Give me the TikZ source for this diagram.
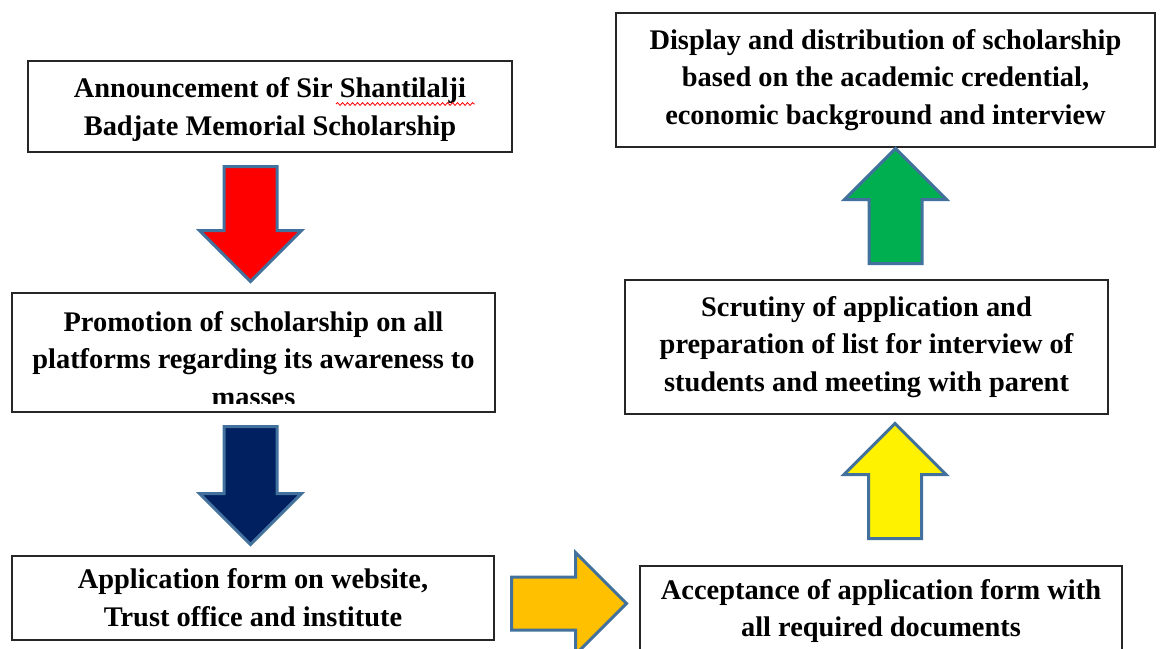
\documentclass[tikz,border=0pt]{standalone}
\usepackage{fontspec}
\setmainfont{Liberation Serif}
\usetikzlibrary{shapes,arrows,decorations.pathmorphing}
\definecolor{arrowline}{RGB}{65,113,156}
\definecolor{navy}{RGB}{0,32,96}
\definecolor{amber}{RGB}{255,192,0}
\definecolor{leaf}{RGB}{0,176,80}

\begin{document}
\begin{tikzpicture}[x=0.5pt,y=-0.5pt]
      \tikzstyle{box} = [rectangle, draw=black!85, line width=0.6pt, align=center, inner sep=0pt, font=\bfseries\fontsize{14.2}{18.9}\selectfont]
      \tikzstyle{boxtext} = [align=center, inner sep=0pt, font=\bfseries\fontsize{14.2}{18.9}\selectfont]
      \tikzstyle{bigarrow} = [single arrow, draw=arrowline, line width=1.5pt, inner xsep=0pt, inner ysep=12.5pt, single arrow head extend=12.25pt, minimum height=57.5pt, anchor=tail]
      \useasboundingbox (0,0) rectangle (1167,648);
      % left column (text cut off by the box like in the original)
      \begin{scope}
        \clip (28,61) rectangle (512,140.5);
        \node (announcetext) [boxtext] at (270,109.5)
          {Announcement of Sir Shantilalji\\Badjate Memorial Scholarship};
      \end{scope}
      \node (announce) [box, minimum width=242pt, minimum height=45.5pt] at (270,106.5) {};
      \begin{scope}
        \clip (12,293) rectangle (495,403);
        \node (promotetext) [boxtext] at (253.5,359)
          {Promotion of scholarship on all\\platforms regarding its awareness to\\masses};
      \end{scope}
      \node (promote) [box, minimum width=241.5pt, minimum height=59.5pt] at (253.5,352.5) {};
      \node (apply) [box, minimum width=241pt, minimum height=42pt] at (253,598)
        {Application form on website,\\Trust office and institute};
      % right column
      \node (accept) [box, minimum width=241pt, minimum height=45pt] at (881,611)
        {Acceptance of application form with\\all required documents};
      \node (scrutiny) [box, minimum width=241.5pt, minimum height=67pt] at (866.5,347)
        {Scrutiny of application and\\preparation of list for interview of\\students and meeting with parent};
      \node (display) [box, minimum width=269.5pt, minimum height=67pt] at (885.5,80)
        {Display and distribution of scholarship\\based on the academic credential,\\economic background and interview};
      % spelling mark
      \coordinate (sq1) at (336,104);
      \coordinate (sq2) at (475,104);
      \draw [red, line width=0.4pt, decorate, decoration={snake, amplitude=0.7pt, segment length=2.5pt}] (sq1)--(sq2);
      % block arrows
      \node (a1) [bigarrow, fill=red, rotate=-90] at (250.5,165) {};
      \node (a2) [bigarrow, fill=navy, rotate=-90, minimum height=59pt] at (250.5,425) {};
      \node (a3) [bigarrow, fill=amber] at (510,603.5) {};
      \node (a4) [bigarrow, fill=yellow, rotate=90] at (895,540) {};
      \node (a5) [bigarrow, fill=leaf, rotate=90] at (895.5,265) {};
\end{tikzpicture}
\end{document}
